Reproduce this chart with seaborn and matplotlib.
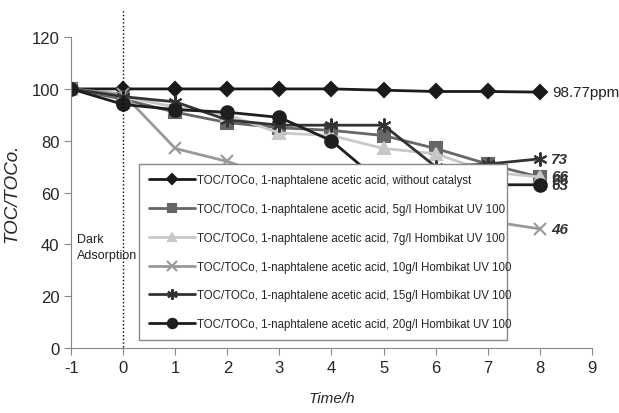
import numpy as np
import pandas as pd
import matplotlib
matplotlib.use("Agg")
import matplotlib.pyplot as plt
import seaborn as sns

# time points (h)
time = [-1, 0, 1, 2, 3, 4, 5, 6, 7, 8]

# TOC/TOCo values
no_cat = [100, 100, 100, 100, 100, 100, 99.5, 99, 99, 98.77]
cat_5g = [100, 96, 91, 87, 85, 84, 82, 77, 71, 66]
cat_7g = [100, 97, 93, 90, 83, 82, 77, 75, 68, 66]
cat_10g = [100, 98, 77, 72, 65, 60, 56, 52, 49, 46]
cat_15g = [100, 97, 95, 88, 86, 86, 86, 70, 71, 73]
cat_20g = [100, 94, 92, 91, 89, 80, 63, 62, 63, 63]

labels = [
    "TOC/TOCo, 1-naphtalene acetic acid, without catalyst",
    "TOC/TOCo, 1-naphtalene acetic acid, 5g/l Hombikat UV 100",
    "TOC/TOCo, 1-naphtalene acetic acid, 7g/l Hombikat UV 100",
    "TOC/TOCo, 1-naphtalene acetic acid, 10g/l Hombikat UV 100",
    "TOC/TOCo, 1-naphtalene acetic acid, 15g/l Hombikat UV 100",
    "TOC/TOCo, 1-naphtalene acetic acid, 20g/l Hombikat UV 100",
]
end_labels = ["73", "66", "66", "63", "46"]
end_values = [73, 66.5, 65, 63, 46]

series = [no_cat, cat_5g, cat_7g, cat_10g, cat_15g, cat_20g]
colors = ["#1a1a1a", "#666666", "#c8c8c8", "#999999", "#333333", "#1e1e1e"]
markers = ["D", "s", "^", "x", (6, 2, 0), "o"]
msizes = [7, 8, 8, 9, 10, 9]

sns.set_style("white")
plt.rcParams['font.family'] = ['Liberation Sans', 'DejaVu Sans']
plt.rcParams['axes.unicode_minus'] = False

fig = plt.figure(figsize=(6.19, 4.14), dpi=100)
ax = fig.add_axes([0.115, 0.157, 0.841, 0.751])

for vals, lab, c, m, ms in zip(series, labels, colors, markers, msizes):
    df = pd.DataFrame({'time': time, 'toc': vals})
    sns.lineplot(data=df, x='time', y='toc', ax=ax, color=c, marker=m,
                 markersize=ms, markeredgecolor=c, markeredgewidth=1.5,
                 linewidth=2, label=lab)

# dark adsorption divider
ax.plot([0, 0], [0.5, 131], color='black', linestyle=':', linewidth=1, clip_on=False)
ax.text(-0.88, 42, "Dark", fontsize=9, color='#222222', va='center')
ax.text(-0.88, 36, "Adsorption", fontsize=9, color='#222222', va='center')

# end labels
ax.text(8.25, 98.77, "98.77ppm", fontsize=11, va='center', color='#222222')
for t, v in zip(end_labels, end_values):
    ax.text(8.22, v, t, fontsize=11, fontweight='bold', style='italic',
            va='center', color='#333333')

ax.set_xlim(-1, 9)
ax.set_ylim(0, 120)
ax.set_xticks(range(-1, 10))
ax.set_yticks(range(0, 121, 20))
ax.tick_params(axis='both', labelsize=12, direction='out', length=5,
               color='#888888', left=True, bottom=True)
for s in ['top', 'right']:
    ax.spines[s].set_visible(False)
for s in ['left', 'bottom']:
    ax.spines[s].set_color('#888888')
ax.set_xlabel("Time/h", fontsize=11, style='italic', labelpad=12)
ax.set_ylabel("TOC/TOCo.", fontsize=13.5, style='italic', labelpad=8)

leg = ax.legend(loc='lower left', bbox_to_anchor=(0.119, 0.006, 0.729, 0.574),
                mode='expand', fontsize=8.3, handlelength=4.0, handletextpad=0.1,
                labelspacing=1.45, borderpad=0.9, fancybox=False, markerscale=0.75,
                framealpha=1, edgecolor='#888888')
leg.get_frame().set_linewidth(1)

fig.savefig("out.png", dpi=100)
